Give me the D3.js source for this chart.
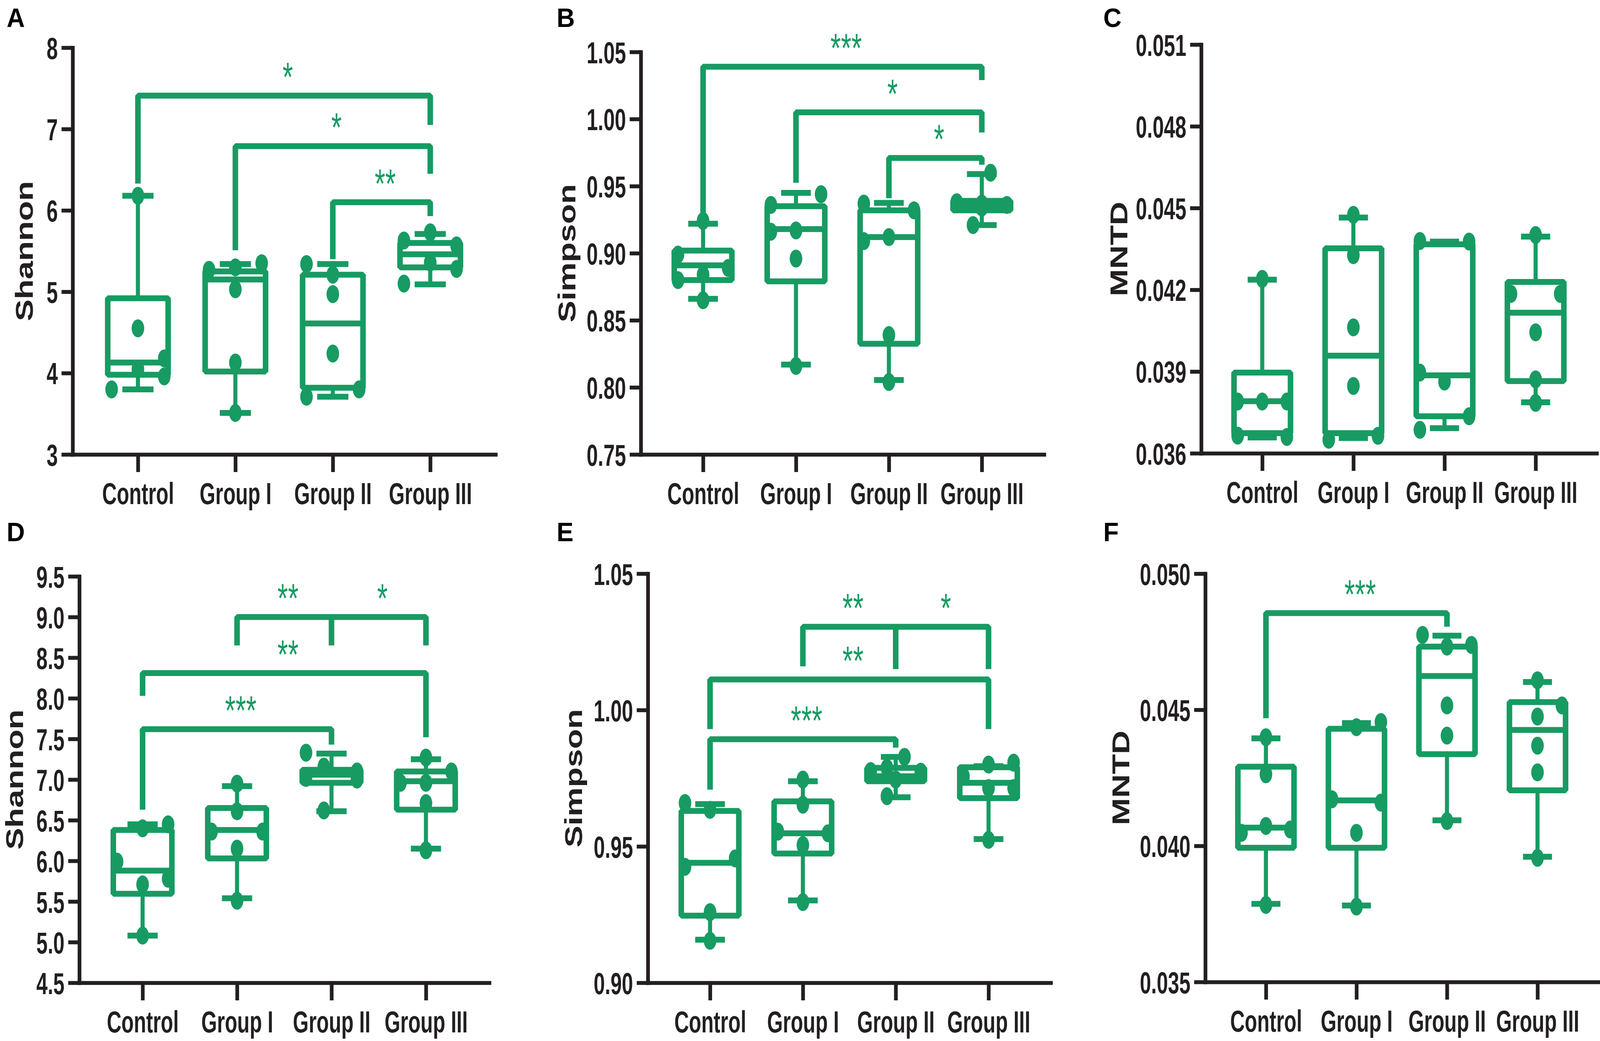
<!DOCTYPE html>
<html lang="en">
<head>
<meta charset="utf-8">
<title>Alpha diversity box plots</title>
<script src="https://d3js.org/d3.v7.min.js"></script>
<style>
  html, body { margin: 0; padding: 0; background: #fff; overflow: hidden; }
  svg { display: block; width: 100vw; height: 100vh; }
</style>
</head>
<body>
<div id="chart"></div>
<script>
// groups on the x axis
var groups = ["Control", "Group I", "Group II", "Group III"];

// ---- A: Shannon ----
var shannonATicks = [3, 4, 5, 6, 7, 8];
var shannonAPoints = [
  [6.18, 4.55, 4.18, 4.05, 3.96, 3.80],
  [5.35, 5.30, 5.27, 5.03, 4.13, 3.51],
  [5.34, 5.21, 4.97, 4.24, 3.80, 3.71],
  [5.73, 5.63, 5.57, 5.36, 5.28, 5.10]
];
var shannonASide = [[0, 0, 1, 0, 1, -1], [1, 0, -1, 0, 0, 0], [-1, 0, 0, 0, 1, -1], [0, -1, 1, 0, 1, -1]];
// min, q1, median, q3, max
var shannonABox = [[3.80, 3.98, 4.13, 4.92, 6.18], [3.51, 4.02, 5.15, 5.25, 5.34], [3.71, 3.82, 4.61, 5.21, 5.34], [5.09, 5.30, 5.46, 5.60, 5.71]];
var shannonASig = [
  { legs: [["Control", 6.33], ["Group III", 7.05]], y: 7.41, stars: ["*"] },
  { legs: [["Group I", 5.51], ["Group III", 6.45]], y: 6.79, stars: ["*"] },
  { legs: [["Group II", 5.40], ["Group III", 5.93]], y: 6.10, stars: ["**"] }
];

// ---- B: Simpson ----
var simpsonBTicks = [0.75, 0.80, 0.85, 0.90, 0.95, 1.00, 1.05];
var simpsonBPoints = [
  [0.924, 0.899, 0.889, 0.884, 0.880, 0.865],
  [0.944, 0.936, 0.917, 0.916, 0.896, 0.816],
  [0.937, 0.932, 0.912, 0.909, 0.839, 0.804],
  [0.960, 0.938, 0.937, 0.936, 0.934, 0.921]
];
var simpsonBSide = [[0, -1, 1, 0, -1, 0], [1, -1, 0, -1, 0, 0], [-1, 1, 0, -1, 0, 0], [0.35, -1, 0, 1, 0, -0.35]];
var simpsonBBox = [[0.866, 0.880, 0.891, 0.902, 0.922], [0.817, 0.879, 0.918, 0.935, 0.945], [0.8055, 0.8325, 0.912, 0.932, 0.9375], [0.921, 0.932, 0.936, 0.939, 0.959]];
var simpsonBSig = [
  { legs: [["Control", 0.930], ["Group III", 1.029]], y: 1.039, stars: ["***"] },
  { legs: [["Group I", 0.9525], ["Group III", 0.990]], y: 1.005, stars: ["*"] },
  { legs: [["Group II", 0.941], ["Group III", 0.966]], y: 0.971, stars: ["*"] }
];

// ---- C: MNTD ----
var mntdCTicks = [0.036, 0.039, 0.042, 0.045, 0.048, 0.051];
var mntdCPoints = [
  [0.0424, 0.0379, 0.0379, 0.0379, 0.03665, 0.0366],
  [0.04475, 0.04327, 0.04062, 0.03847, 0.03664, 0.0365],
  [0.04379, 0.04377, 0.03896, 0.03863, 0.03736, 0.03686],
  [0.04401, 0.04185, 0.04185, 0.04044, 0.03871, 0.03785]
];
var mntdCSide = [[0, -1, 0, 1, -1, 1], [0, 0, 0, 0, 1, -1], [-1, 1, -1, 0, 1, -1], [0, -1, 1, 0, 0, 0]];
var mntdCBox = [[0.03658, 0.03674, 0.03791, 0.03896, 0.04237], [0.03656, 0.03674, 0.03958, 0.04352, 0.04465], [0.03692, 0.03736, 0.03886, 0.04367, 0.04377], [0.03787, 0.03865, 0.04116, 0.04229, 0.04395]];
var mntdCSig = [];

// ---- D: Shannon ----
var shannonDTicks = [4.5, 5.0, 5.5, 6.0, 6.5, 7.0, 7.5, 8.0, 8.5, 9.0, 9.5];
var shannonDPoints = [
  [6.45, 6.40, 5.99, 5.78, 5.71, 5.08],
  [6.95, 6.61, 6.36, 6.36, 6.15, 5.51],
  [7.33, 7.16, 7.10, 7.02, 7.00, 6.62],
  [7.27, 7.10, 6.96, 6.96, 6.71, 6.13]
];
var shannonDSide = [[1, 0, -1, 1, 0, 0], [0, 0, -1, 1, 0, 0], [-1, -0.3, 1, -1, 1, -0.3], [0, 1, -1, 0, 0, 0]];
var shannonDBox = [[5.08, 5.595, 5.88, 6.38, 6.45], [5.54, 6.03, 6.38, 6.65, 6.92], [6.61, 6.96, 7.06, 7.12, 7.32], [6.15, 6.63, 6.98, 7.10, 7.25]];
var shannonDSig = [
  { legs: [["Group I", 8.65], ["Group II", 8.65], ["Group III", 8.65]], y: 9.0, stars: ["**", "*"] },
  { legs: [["Control", 8.03], ["Group III", 7.52]], y: 8.31, stars: ["**"] },
  { legs: [["Control", 6.63], ["Group II", 7.43]], y: 7.62, stars: ["***"] }
];

// ---- E: Simpson ----
var simpsonETicks = [0.90, 0.95, 1.00, 1.05];
var simpsonEPoints = [
  [0.9659, 0.9634, 0.9456, 0.9425, 0.9259, 0.9154],
  [0.9745, 0.9653, 0.9554, 0.9548, 0.9505, 0.9296],
  [0.9828, 0.9788, 0.9776, 0.9774, 0.9745, 0.9684],
  [0.9807, 0.9800, 0.9757, 0.9714, 0.9714, 0.9524]
];
var simpsonESide = [[-1, 0, 1, -1, 0, 0], [0, 0, -1, 1, 0, 0], [0.35, -0.35, -1, 1, 0, -0.35], [1, 0, -1, 0, 1, 0]];
var simpsonEBox = [[0.9158, 0.9246, 0.944, 0.963, 0.9655], [0.9302, 0.9474, 0.9548, 0.9665, 0.9739], [0.968, 0.9739, 0.9757, 0.9788, 0.9828], [0.9527, 0.9677, 0.9733, 0.979, 0.9794]];
var simpsonESig = [
  { legs: [["Group I", 1.016], ["Group II", 1.015], ["Group III", 1.015]], y: 1.0305, stars: ["**", "*"] },
  { legs: [["Control", 0.993], ["Group III", 0.993]], y: 1.0112, stars: ["**"] },
  { legs: [["Control", 0.9708], ["Group II", 0.9862]], y: 0.9893, stars: ["***"] }
];

// ---- F: MNTD ----
var mntdFTicks = [0.035, 0.040, 0.045, 0.050];
var mntdFPoints = [
  [0.04399, 0.04263, 0.04073, 0.04060, 0.04048, 0.03783],
  [0.04455, 0.04436, 0.04171, 0.04159, 0.04048, 0.03777],
  [0.04775, 0.04738, 0.04732, 0.04516, 0.04405, 0.04091],
  [0.04608, 0.04516, 0.04475, 0.04368, 0.04270, 0.03956]
];
var mntdFSide = [[0, 0, 0, 1, -1, 0], [1, 0, -1, 1, 0, 0], [-1, 1, 0, 0, 0, 0], [0, 1, 0, 0, 0, 0]];
var mntdFBox = [[0.03787, 0.03993, 0.04067, 0.04291, 0.04395], [0.03781, 0.03993, 0.04167, 0.0443, 0.04451], [0.04094, 0.04337, 0.04624, 0.04732, 0.04772], [0.0396, 0.04204, 0.04426, 0.04528, 0.04602]];
var mntdFSig = [
  { legs: [["Control", 0.04469], ["Group II", 0.04805]], y: 0.04855, stars: ["***"] }
];

// panel layout (pixels in a 4317 x 2664 frame)
var panels = [
  { letter: "A", title: "Shannon", ticks: shannonATicks, fmt: d3.format("d"), pts: shannonAPoints, side: shannonASide, box: shannonABox, sig: shannonASig,
    x0: 196, x1: 1337, yTop: 122, yBot: 1163, titleX: 65, lx: 18, ly: 69 },
  { letter: "B", title: "Simpson", ticks: simpsonBTicks, fmt: d3.format(".2f"), pts: simpsonBPoints, side: simpsonBSide, box: simpsonBBox, sig: simpsonBSig,
    x0: 1729, x1: 2817, yTop: 133, yBot: 1163, titleX: 1529, lx: 1502, ly: 69 },
  { letter: "C", title: "MNTD", ticks: mntdCTicks, fmt: d3.format(".3f"), pts: mntdCPoints, side: mntdCSide, box: mntdCBox, sig: mntdCSig,
    x0: 3241, x1: 4308, yTop: 114, yBot: 1160, titleX: 3018, lx: 2977, ly: 69 },
  { letter: "D", title: "Shannon", ticks: shannonDTicks, fmt: d3.format(".1f"), pts: shannonDPoints, side: shannonDSide, box: shannonDBox, sig: shannonDSig,
    x0: 214, x1: 1320, yTop: 1475, yBot: 2515, titleX: 38, lx: 18, ly: 1385 },
  { letter: "E", title: "Simpson", ticks: simpsonETicks, fmt: d3.format(".2f"), pts: simpsonEPoints, side: simpsonESide, box: simpsonEBox, sig: simpsonESig,
    x0: 1748, x1: 2835, yTop: 1468, yBot: 2515, titleX: 1546, lx: 1502, ly: 1385 },
  { letter: "F", title: "MNTD", ticks: mntdFTicks, fmt: d3.format(".3f"), pts: mntdFPoints, side: mntdFSide, box: mntdFBox, sig: mntdFSig,
    x0: 3252, x1: 4312, yTop: 1468, yBot: 2513, titleX: 3023, lx: 2977, ly: 1385 }
];

var green = "#179b63", ink = "#231f20", font = "'Liberation Sans', Arial, sans-serif";
var squeeze = 0.7; // text in the figure is horizontally condensed

// the frame is scaled to whatever viewport the page gets
var svg = d3.select("#chart").append("svg")
    .attr("viewBox", "0 0 4317 2664")
    .attr("preserveAspectRatio", "none");

panels.forEach(function (p) {
  var g = svg.append("g");

  var x = d3.scalePoint().domain(groups).range([p.x0, p.x1]).padding(0.67);
  var y = d3.scaleLinear().domain([p.ticks[0], p.ticks[p.ticks.length - 1]]).range([p.yBot, p.yTop]);
  var step = x.step();
  var boxHalf = 0.31 * step, capHalf = 0.16 * step, dotShift = 0.27 * step;

  // axes
  var yAxis = g.append("g")
      .attr("transform", "translate(" + p.x0 + ",0)")
      .call(d3.axisLeft(y).tickValues(p.ticks).tickFormat(p.fmt).tickSize(30).tickSizeOuter(0));
  var xAxis = g.append("g")
      .attr("transform", "translate(0," + p.yBot + ")")
      .call(d3.axisBottom(x).tickSize(45).tickSizeOuter(0));

  [yAxis, xAxis].forEach(function (a) {
    a.select(".domain").attr("stroke", ink).attr("stroke-width", 10).attr("stroke-linecap", "square");
    a.selectAll(".tick line").attr("stroke", ink).attr("stroke-width", 10);
    a.selectAll(".tick text")
      .attr("fill", ink)
      .style("font-family", font)
      .style("font-size", "78px")
      .style("font-weight", "bold");
  });
  yAxis.selectAll(".tick text")
    .attr("x", 0).attr("dy", "0.36em")
    .attr("transform", "translate(-40,0) scale(" + squeeze + ",1)");
  xAxis.selectAll(".tick text")
    .attr("y", 0).attr("dy", null)
    .attr("transform", "translate(0,127) scale(" + squeeze + ",1)");

  // y title
  g.append("text")
    .attr("transform", "translate(" + (p.titleX + 24) + "," + ((p.yTop + p.yBot) / 2) + ") scale(0.8,1) rotate(-90)")
    .attr("text-anchor", "middle")
    .attr("fill", ink)
    .style("font-family", font)
    .style("font-size", "84px")
    .style("font-weight", "bold")
    .text(p.title);

  // panel letter
  g.append("text")
    .attr("x", p.lx).attr("y", p.ly)
    .attr("fill", "#000")
    .style("font-family", font)
    .style("font-size", "68px")
    .style("font-weight", "bold")
    .text(p.letter);

  // boxes, whiskers and points
  groups.forEach(function (name, i) {
    var b = p.box[i], cx = x(name);

    g.append("line")
      .attr("x1", cx).attr("x2", cx)
      .attr("y1", y(b[3])).attr("y2", y(b[4]))
      .attr("stroke", green).attr("stroke-width", 11);
    g.append("line")
      .attr("x1", cx).attr("x2", cx)
      .attr("y1", y(b[1])).attr("y2", y(b[0]))
      .attr("stroke", green).attr("stroke-width", 11);

    [b[0], b[4]].forEach(function (v) {
      g.append("line")
        .attr("x1", cx - capHalf).attr("x2", cx + capHalf)
        .attr("y1", y(v)).attr("y2", y(v))
        .attr("stroke", green).attr("stroke-width", 15);
    });

    g.append("rect")
      .attr("x", cx - boxHalf)
      .attr("y", y(b[3]))
      .attr("width", 2 * boxHalf)
      .attr("height", y(b[1]) - y(b[3]))
      .attr("fill", "none")
      .attr("stroke", green)
      .attr("stroke-width", 15)
      .attr("stroke-linejoin", "bevel");

    g.append("line")
      .attr("x1", cx - boxHalf).attr("x2", cx + boxHalf)
      .attr("y1", y(b[2])).attr("y2", y(b[2]))
      .attr("stroke", green).attr("stroke-width", 15);

    g.selectAll(null)
      .data(p.pts[i])
      .enter()
      .append("ellipse")
      .attr("cx", function (d, j) { return cx + p.side[i][j] * dotShift; })
      .attr("cy", function (d) { return y(d); })
      .attr("rx", 17)
      .attr("ry", 23)
      .attr("fill", green);
  });

  // significance brackets
  p.sig.forEach(function (s) {
    var yb = y(s.y), legs = s.legs, last = legs.length - 1;
    var path = d3.path();
    path.moveTo(x(legs[0][0]), y(legs[0][1]));
    path.lineTo(x(legs[0][0]), yb);
    path.lineTo(x(legs[last][0]), yb);
    path.lineTo(x(legs[last][0]), y(legs[last][1]));
    for (var m = 1; m < last; m++) {
      path.moveTo(x(legs[m][0]), yb);
      path.lineTo(x(legs[m][0]), y(legs[m][1]));
    }
    g.append("path")
      .attr("d", path.toString())
      .attr("fill", "none")
      .attr("stroke", green)
      .attr("stroke-width", 15)
      .attr("stroke-linejoin", "bevel");

    s.stars.forEach(function (lab, j) {
      var mx = (x(legs[j][0]) + x(legs[j + 1][0])) / 2 + 10;
      g.append("text")
        .attr("transform", "translate(" + mx + "," + (yb - 12) + ") scale(" + squeeze + ",1)")
        .attr("text-anchor", "middle")
        .attr("fill", green)
        .style("font-family", font)
        .style("font-size", "104px")
        .text(lab);
    });
  });
});
</script>
</body>
</html>
